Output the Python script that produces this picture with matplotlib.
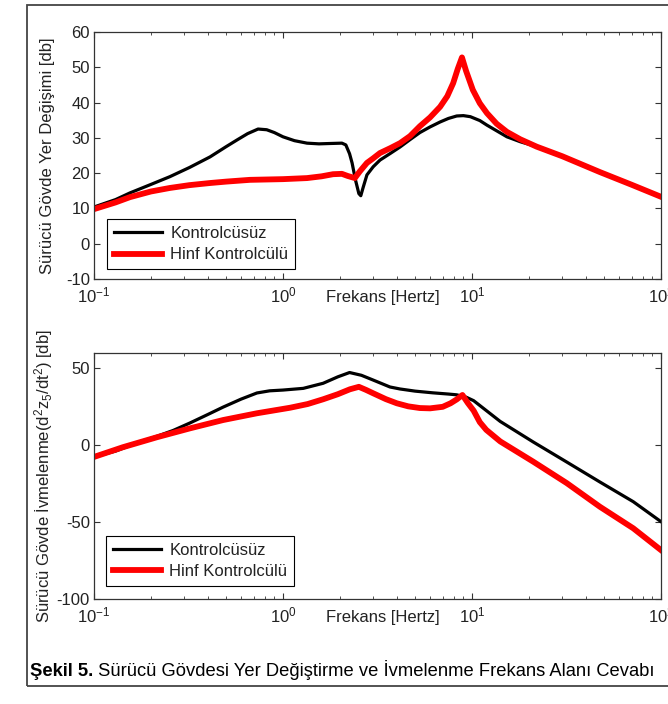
import matplotlib
matplotlib.use("Agg")
import matplotlib.pyplot as plt
from matplotlib.patches import Rectangle
from matplotlib.ticker import LogLocator, NullFormatter

plt.rcParams['font.family'] = ['Liberation Sans', 'DejaVu Sans']
plt.rcParams['mathtext.fontset'] = 'custom'
plt.rcParams['mathtext.rm'] = 'Liberation Sans'
plt.rcParams['mathtext.it'] = 'Liberation Sans:italic'
plt.rcParams['mathtext.bf'] = 'Liberation Sans:bold'
plt.rcParams['axes.unicode_minus'] = False

# Displacement response [dB] vs frequency [Hz]
disp_f_open = [0.1, 0.13, 0.155, 0.2, 0.252, 0.32, 0.411, 0.5, 0.571, 0.65, 0.738, 0.82, 0.9, 1.0,
               1.15, 1.34, 1.55, 1.77, 2.05, 2.15, 2.25, 2.32, 2.42, 2.52, 2.58, 2.65, 2.78, 3.0,
               3.26, 3.7, 4.16, 4.7, 5.3, 6.0, 6.78, 7.5, 8.3, 9.0, 9.8, 11, 12, 13.5, 15.3, 18,
               22, 30, 47.5, 70, 100]
disp_open = [10.4, 12.5, 14.4, 16.8, 19.0, 21.6, 24.6, 27.5, 29.4, 31.2, 32.5, 32.3, 31.5, 30.3,
             29.2, 28.5, 28.3, 28.4, 28.5, 28.0, 25.5, 22.9, 18.0, 14.2, 13.6, 15.8, 19.5, 21.8,
             23.7, 25.6, 27.4, 29.5, 31.5, 33.1, 34.5, 35.5, 36.2, 36.3, 36.0, 34.9, 33.6, 32.0,
             30.3, 28.9, 27.5, 24.8, 20.3, 16.7, 13.3]

disp_f_hinf = [0.1, 0.13, 0.155, 0.2, 0.252, 0.32, 0.411, 0.5, 0.668, 1.0, 1.34, 1.6, 1.84, 2.05,
               2.2, 2.4, 2.55, 2.78, 3.0, 3.26, 3.7, 4.16, 4.7, 5.3, 6.0, 6.78, 7.4, 7.95, 8.4,
               8.85, 9.3, 10.1, 11, 12, 13.5, 15.3, 18, 22, 30, 47.5, 70, 100]
disp_hinf = [9.8, 11.7, 13.2, 14.8, 15.8, 16.6, 17.2, 17.6, 18.1, 18.3, 18.6, 19.1, 19.7, 19.8,
             19.2, 18.6, 20.5, 22.9, 24.2, 25.7, 27.1, 28.5, 30.5, 33.3, 35.8, 38.8, 41.8, 45.5,
             49.5, 52.8, 49.0, 43.6, 39.8, 37.0, 34.0, 31.7, 29.6, 27.5, 24.8, 20.3, 16.7, 13.3]

# Acceleration response [dB] vs frequency [Hz]
acc_f_open = [0.1, 0.13, 0.175, 0.215, 0.262, 0.322, 0.4, 0.482, 0.6, 0.728, 0.85, 1.0, 1.28,
              1.63, 1.95, 2.25, 2.6, 3.0, 3.68, 4.16, 5.0, 6.2, 7.5, 8.3, 9.3, 10.2, 14.1, 21.1,
              31.7, 47.5, 71.3, 100]
acc_open = [-7.6, -3.8, 2.2, 5.8, 9.6, 14.5, 20.0, 24.8, 30.0, 34.0, 35.4, 35.9, 37.0, 40.3,
            44.5, 47.3, 45.5, 42.4, 37.9, 36.6, 35.2, 34.1, 33.3, 32.8, 31.3, 29.0, 15.5, 2.1,
            -10.9, -23.9, -36.7, -49.7]

acc_f_hinf = [0.1, 0.142, 0.215, 0.322, 0.482, 0.728, 1.09, 1.35, 1.63, 1.95, 2.26, 2.52, 2.75,
              3.0, 3.5, 4.0, 4.6, 5.3, 6.0, 7.0, 7.7, 8.3, 8.9, 9.5, 10.2, 11.0, 11.9, 14.1, 21.1,
              31.7, 47.5, 71.3, 100]
acc_hinf = [-7.6, -1.3, 5.2, 11.0, 16.4, 20.8, 24.4, 26.8, 29.9, 33.2, 36.4, 38.0, 36.0, 33.8,
            30.0, 27.3, 25.3, 24.2, 24.0, 25.0, 27.3, 29.8, 32.7, 27.5, 22.5, 15.0, 10.0, 2.5,
            -10.7, -24.6, -40.0, -54.0, -68.2]

labels = ['Kontrolcüsüz', 'Hinf Kontrolcülü']
disp_yticks = [-10, 0, 10, 20, 30, 40, 50, 60]
acc_yticks = [-100, -50, 0, 50]

W, H = 668, 704
fig = plt.figure(figsize=(W / 100, H / 100), dpi=100)
ax1 = fig.add_axes([94 / W, 1 - 279 / H, 567 / W, 247 / H])
ax2 = fig.add_axes([94 / W, 1 - 599 / H, 567 / W, 246 / H])

text_col = '#222222'
fs = 12


def style_axis(ax, yticks, ylim, ylabel, leg_anchor):
    ax.set_xscale('log')
    ax.set_xlim(0.1, 100)
    ax.set_ylim(*ylim)
    ax.set_yticks(yticks)
    ax.xaxis.set_major_locator(LogLocator(base=10, numticks=10))
    ax.xaxis.set_minor_locator(LogLocator(base=10, subs=range(2, 10), numticks=20))
    ax.xaxis.set_minor_formatter(NullFormatter())
    ax.tick_params(which='both', direction='in', top=True, right=True,
                   labelsize=fs, colors='#333333', labelcolor=text_col)
    ax.tick_params(which='major', length=4.5, width=0.8)
    ax.tick_params(which='minor', length=2.5, width=0.6)
    ax.tick_params(axis='x', pad=5)
    ax.tick_params(axis='y', pad=3)
    for s in ax.spines.values():
        s.set_linewidth(0.9)
        s.set_color('#333333')
    ax.set_ylabel(ylabel, fontsize=fs, color=text_col)
    ax.yaxis.set_label_coords(-39 / 567, 0.5)
    ax.set_xlabel('Frekans [Hertz]', fontsize=fs, color=text_col, va='center')
    ax.xaxis.set_label_coords(289 / 567, -0.075)
    leg = ax.legend(loc='lower left', bbox_to_anchor=leg_anchor, borderaxespad=0,
                    fontsize=fs, fancybox=False, framealpha=1, edgecolor='black',
                    handlelength=2.9, handletextpad=0.5, borderpad=0.4, labelspacing=0.4)
    leg.get_frame().set_linewidth(0.8)
    for t in leg.get_texts():
        t.set_color(text_col)


ax1.plot(disp_f_open, disp_open, color='black', lw=2.3, label=labels[0])
ax1.plot(disp_f_hinf, disp_hinf, color='red', lw=4.2, label=labels[1])
style_axis(ax1, disp_yticks, (-10, 60), 'Sürücü Gövde Yer Değişimi [db]', (0.023, 0.04))

ax2.plot(acc_f_open, acc_open, color='black', lw=2.3, label=labels[0])
ax2.plot(acc_f_hinf, acc_hinf, color='red', lw=4.2, label=labels[1])
style_axis(ax2, acc_yticks, (-100, 60),
           r'Sürücü Gövde İvmelenme(d$\mathregular{^2}$z$\mathregular{_5}$/dt$\mathregular{^2}$) [db]',
           (0.021, 0.053))

# Frame around figure and caption
fig.add_artist(Rectangle((27 / W, 1 - 686 / H), 1.0, 681 / H, transform=fig.transFigure,
                         fill=False, lw=1.3, ec='#444444'))
cap = fig.text(30 / W, 1 - 672 / H, 'Şekil 5.', fontsize=13.2, weight='bold',
               va='center', ha='left', color='black')
fig.add_artist(plt.Annotation(' Sürücü Gövdesi Yer Değiştirme ve İvmelenme Frekans Alanı Cevabı',
                              xy=(1, 0), xycoords=cap, va='bottom', ha='left',
                              fontsize=13.2, color='black'))

fig.savefig('out.png', dpi=100)
